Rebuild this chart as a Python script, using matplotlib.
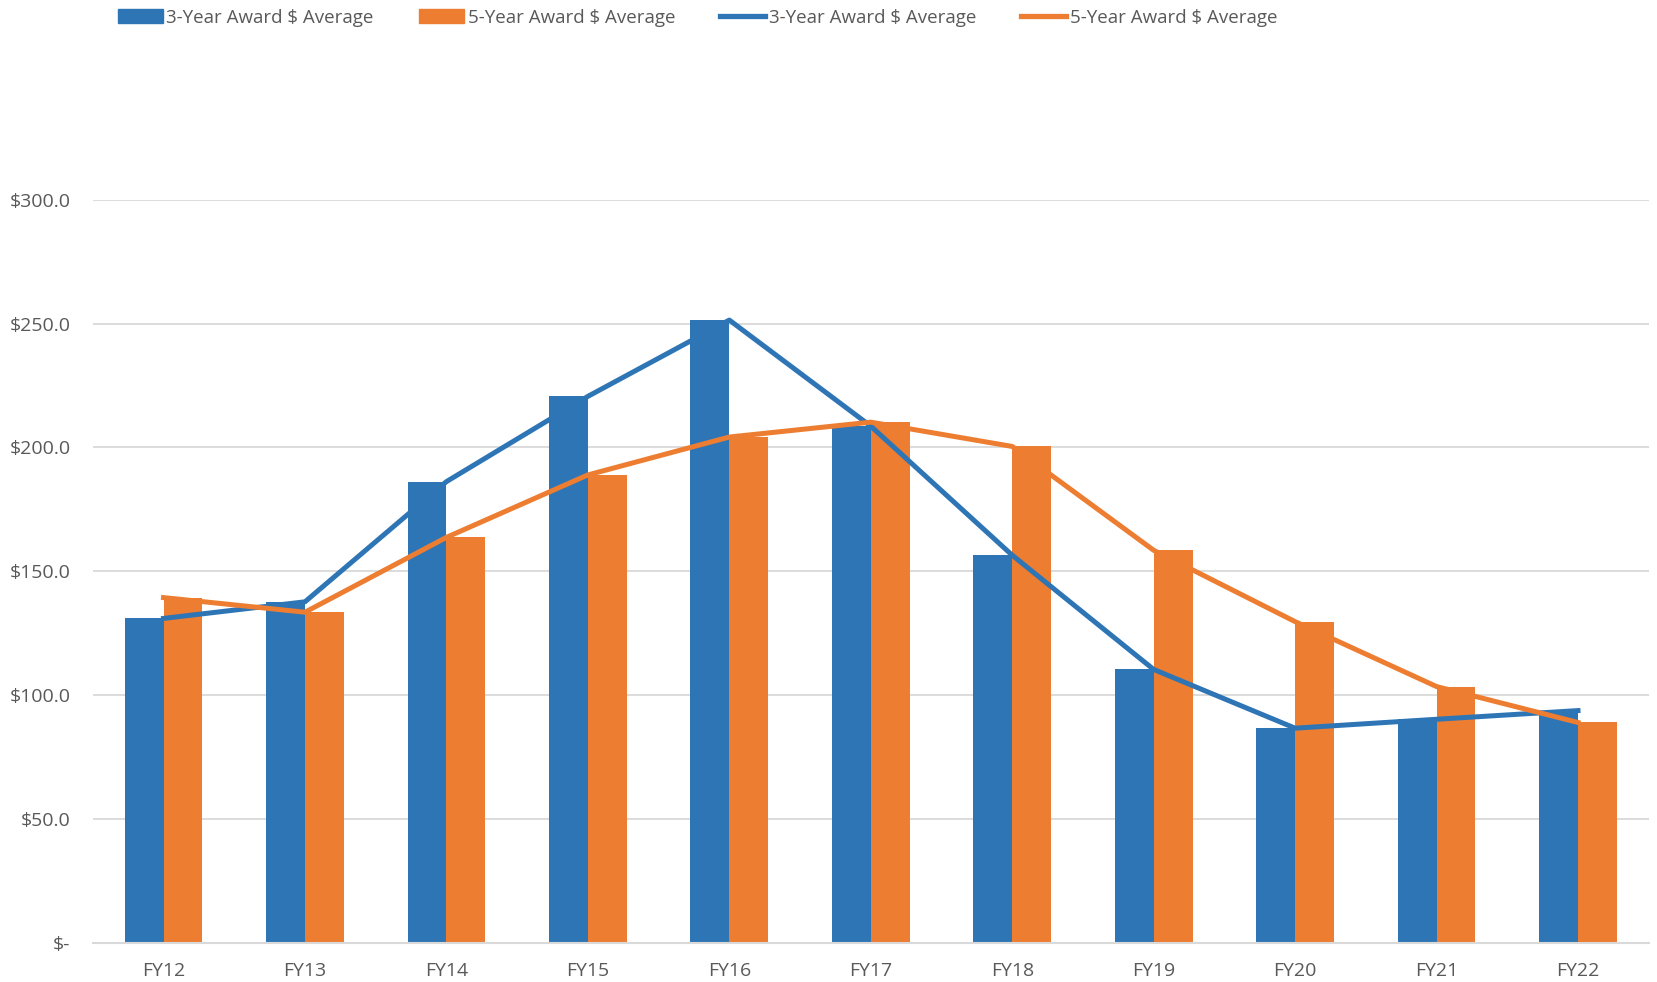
import matplotlib.pyplot as plt
import numpy as np
from matplotlib.patches import Patch
from matplotlib.lines import Line2D

# данные
years = ['FY12', 'FY13', 'FY14', 'FY15', 'FY16', 'FY17', 'FY18', 'FY19', 'FY20', 'FY21', 'FY22']
avg_3yr = [131.0, 137.7, 186.2, 220.6, 251.4, 208.6, 156.5, 110.4, 86.7, 90.3, 93.8]
avg_5yr = [139.4, 133.5, 163.7, 188.9, 204.2, 210.2, 200.4, 158.5, 129.7, 103.5, 89.0]
y_ticks = [0, 50, 100, 150, 200, 250, 300]
y_labels = ['$-', '$50.0', '$100.0', '$150.0', '$200.0', '$250.0', '$300.0']

blue = '#2E75B6'
orange = '#ED7D31'
text_col = '#595959'
grid_col = '#D9D9D9'

plt.rcParams['font.family'] = ['Open Sans', 'DejaVu Sans']

fig = plt.figure(figsize=(16.57, 9.82), dpi=100)
ax = fig.add_axes([0.056, 0.0397, 0.939, 0.757])

x = np.arange(len(years))
w = 0.275

# столбцы
ax.bar(x - w / 2, avg_3yr, width=w, color=blue, zorder=2)
ax.bar(x + w / 2, avg_5yr, width=w, color=orange, zorder=2)

# линии
ax.plot(x, avg_3yr, color=blue, lw=3.6, zorder=3)
ax.plot(x, avg_5yr, color=orange, lw=3.6, zorder=3)

ax.set_xlim(-0.5, len(years) - 0.5)
ax.set_ylim(0, 300)
ax.set_yticks(y_ticks)
ax.set_yticklabels(y_labels)
ax.set_xticks(x)
ax.set_xticklabels(years)

ax.grid(axis='y', color=grid_col, lw=1.3, zorder=0)
for s in ['top', 'right', 'left']:
    ax.spines[s].set_visible(False)
ax.spines['bottom'].set_color(grid_col)
ax.spines['bottom'].set_linewidth(1.5)
ax.tick_params(axis='both', length=0, labelsize=14, labelcolor=text_col)
ax.tick_params(axis='y', pad=16)
ax.tick_params(axis='x', pad=14)

# легенда
handles = [
    Patch(color=blue),
    Patch(color=orange),
    Line2D([], [], color=blue, lw=3.8),
    Line2D([], [], color=orange, lw=3.8),
]
labels = ['3-Year Award $ Average', '5-Year Award $ Average',
          '3-Year Award $ Average', '5-Year Award $ Average']
leg = fig.legend(handles, labels, loc='center', bbox_to_anchor=(0.421, 0.982),
                 ncol=4, frameon=False, fontsize=13.5, handlelength=2.4,
                 handleheight=0.8, handletextpad=0.2, columnspacing=2.4,
                 borderpad=0)
for t in leg.get_texts():
    t.set_color(text_col)

fig.savefig('out.png', dpi=100)
